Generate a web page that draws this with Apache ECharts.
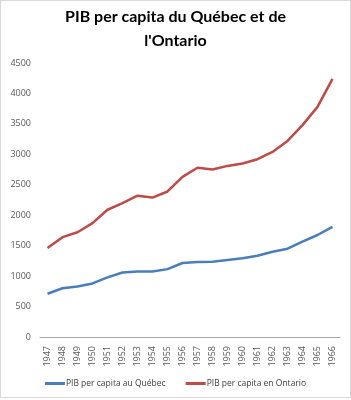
<!DOCTYPE html>
<html>
<head>
<meta charset="utf-8">
<script src="https://cdn.jsdelivr.net/npm/echarts@6/dist/echarts.min.js"></script>
<style>
  html, body { margin: 0; padding: 0; background: #fff; }
  #chart { width: 349px; height: 396px; border: 1px solid #d9d9d9; }
</style>
</head>
<body>
<div id="chart"></div>
<script>
// années
var years = ['1947', '1948', '1949', '1950', '1951', '1952', '1953', '1954', '1955', '1956',
             '1957', '1958', '1959', '1960', '1961', '1962', '1963', '1964', '1965', '1966'];
// PIB per capita
var quebec = [710, 800, 830, 880, 980, 1060, 1075, 1075, 1115, 1215,
              1230, 1235, 1265, 1295, 1335, 1400, 1450, 1565, 1675, 1810];
var ontario = [1460, 1640, 1720, 1870, 2090, 2200, 2320, 2290, 2390, 2630,
               2780, 2750, 2810, 2850, 2920, 3040, 3220, 3480, 3780, 4240];
var yTicks = [0, 500, 1000, 1500, 2000, 2500, 3000, 3500, 4000, 4500];

var chart = echarts.init(document.getElementById('chart'));
var labelFont = { fontFamily: 'Open Sans', fontSize: 9, color: '#595959' };

chart.setOption({
  animation: false,
  title: {
    text: "PIB per capita du Québec et de\nl'Ontario",
    left: 'center',
    top: -1,
    textStyle: { fontFamily: 'Lato', fontWeight: 'bold', fontSize: 16, lineHeight: 24, color: '#000' }
  },
  legend: {
    bottom: 4,
    left: 'center',
    itemGap: 20,
    itemWidth: 20,
    itemHeight: 3,
    icon: 'rect',
    textStyle: { fontFamily: 'Open Sans', fontSize: 8.5, color: '#404040', padding: [0, 0, 0, -4] },
    data: ['PIB per capita au Québec', 'PIB per capita en Ontario']
  },
  grid: { left: 39, right: 10, top: 62, bottom: 60 },
  xAxis: {
    type: 'category',
    data: years,
    boundaryGap: true,
    axisLine: { lineStyle: { color: '#a6a6a6', width: 1 } },
    axisTick: { show: false },
    axisLabel: Object.assign({ rotate: 90, margin: 9, interval: 0 }, labelFont)
  },
  yAxis: {
    type: 'value',
    min: yTicks[0],
    max: yTicks[yTicks.length - 1],
    interval: 500,
    axisLine: { show: false },
    axisTick: { show: false },
    splitLine: { show: false },
    axisLabel: Object.assign({ margin: 9, formatter: function (v) { return String(v); } }, labelFont)
  },
  series: [
    {
      name: 'PIB per capita au Québec',
      type: 'line',
      data: quebec,
      symbol: 'none',
      color: '#4a7ebb',
      lineStyle: { width: 2.5 }
    },
    {
      name: 'PIB per capita en Ontario',
      type: 'line',
      data: ontario,
      symbol: 'none',
      color: '#be4b48',
      lineStyle: { width: 2.5 }
    }
  ]
});
</script>
</body>
</html>
